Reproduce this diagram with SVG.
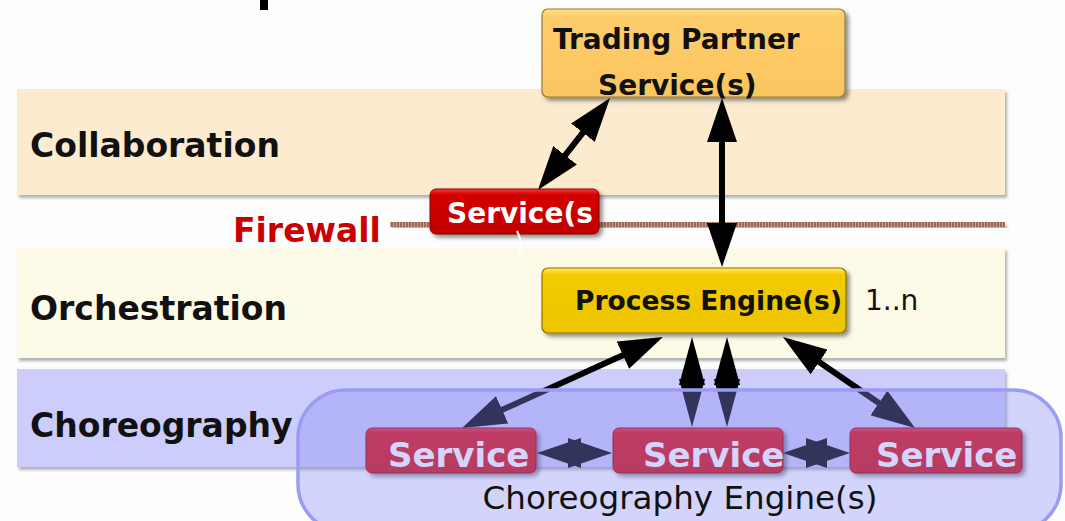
<svg xmlns="http://www.w3.org/2000/svg" width="1065" height="521" viewBox="0 0 1065 521">
<style>
.lbl{font-family:"DejaVu Sans",Verdana,sans-serif;font-weight:bold;font-size:33px;fill:#111}
.bt{font-family:"DejaVu Sans",Verdana,sans-serif;font-weight:bold;fill:#111}
.svc{font-family:"DejaVu Sans",Verdana,sans-serif;font-weight:bold;font-size:34px;fill:#fff}
.con{stroke:#000;stroke-width:6;fill:none;marker-start:url(#ah);marker-end:url(#ah)}
.conm{stroke:#000;stroke-width:6;fill:none;marker-start:url(#ahm);marker-end:url(#ahm)}
.band{filter:url(#bs)}
</style>
<defs>
<marker id="ah" viewBox="0 0 44 30" refX="12" refY="15" markerWidth="44" markerHeight="30" markerUnits="userSpaceOnUse" orient="auto-start-reverse">
<path d="M0,0 L44,15 L0,30 z" fill="#000"/>
</marker>
<marker id="ahm" viewBox="0 0 48 26" refX="16" refY="13" markerWidth="48" markerHeight="26" markerUnits="userSpaceOnUse" orient="auto-start-reverse">
<path d="M0,0 L48,13 L0,26 z" fill="#000"/>
</marker>
<filter id="sh" x="-10%" y="-20%" width="130%" height="150%">
<feDropShadow dx="3" dy="3" stdDeviation="2" flood-color="#000" flood-opacity="0.45"/>
</filter>
<filter id="bs" x="-5%" y="-10%" width="110%" height="130%">
<feDropShadow dx="2" dy="3" stdDeviation="1.5" flood-color="#000" flood-opacity="0.3"/>
</filter>
<linearGradient id="gTP" x1="0" y1="0" x2="0" y2="1">
<stop offset="0" stop-color="#ffe28a"/><stop offset="0.08" stop-color="#fdcc6a"/><stop offset="1" stop-color="#fbc660"/>
</linearGradient>
<linearGradient id="gPE" x1="0" y1="0" x2="0" y2="1">
<stop offset="0" stop-color="#fff060"/><stop offset="0.1" stop-color="#f2cb00"/><stop offset="1" stop-color="#ecc400"/>
</linearGradient>
<linearGradient id="gR" x1="0" y1="0" x2="0" y2="1">
<stop offset="0" stop-color="#f04040"/><stop offset="0.12" stop-color="#d40000"/><stop offset="1" stop-color="#c00000"/>
</linearGradient>
<linearGradient id="gS" x1="0" y1="0" x2="0" y2="1">
<stop offset="0" stop-color="#f03040"/><stop offset="0.12" stop-color="#de0a10"/><stop offset="1" stop-color="#d0080c"/>
</linearGradient>
</defs>

<rect width="1065" height="521" fill="#fdfdfd"/>
<rect x="260" y="0" width="8" height="10" fill="#000"/>

<g id="bands">
<rect class="band" x="17" y="89" width="988" height="106" fill="#fdebd0"/>
<rect class="band" x="17" y="248" width="988" height="110" fill="#fdfbe8"/>
<rect class="band" x="17" y="369" width="988" height="98" fill="#cccdfa"/>
</g>

<g id="firewall">
<rect x="390" y="222" width="615" height="5" fill="#9c6a58" filter="url(#bs)"/>
<line x1="390" y1="224.5" x2="1005" y2="224.5" stroke="#c9a08e" stroke-width="5" stroke-dasharray="1 2"/>
<text x="233" y="242" class="bt" font-size="33" style="fill:#cc0000">Firewall</text>
</g>

<g id="layer-labels">
<text class="lbl" x="30" y="157">Collaboration</text>
<text class="lbl" x="30" y="320">Orchestration</text>
<text class="lbl" x="30" y="437">Choreography</text>
</g>

<g id="connectors">
<line class="con" x1="557.7" y1="164.8" x2="590.3" y2="123.2"/>
<line class="con" x1="722" y1="130" x2="722" y2="235"/>
<line class="con" x1="633.8" y1="350.2" x2="491.2" y2="414.8"/>
<line class="con" x1="809.3" y1="355.2" x2="888.7" y2="409.8"/>
<line class="conm" x1="692" y1="369" x2="692" y2="395"/>
<line class="conm" x1="727" y1="369" x2="727" y2="395"/>
<line class="con" x1="569" y1="453" x2="580" y2="453"/>
<line class="con" x1="815" y1="453" x2="818" y2="453"/>
</g>

<g id="trading-partner">
<rect x="542" y="9" width="303" height="88" rx="6" fill="url(#gTP)" stroke="#9a7a3a" stroke-width="1.2" filter="url(#sh)"/>
<text class="bt" x="553" y="49" font-size="28">Trading Partner</text>
<text class="bt" x="598" y="95" font-size="28">Service(s)</text>
</g>

<g id="service-firewall">
<rect x="430" y="189" width="169" height="45" rx="6" fill="url(#gR)" stroke="#8a0000" stroke-width="1" filter="url(#sh)"/>
<text class="svc" x="447" y="223" style="font-size:28px">Service(s</text>
<path d="M517,231 Q524,244 518,257" stroke="#fff" stroke-width="2" fill="none"/>
</g>

<g id="process-engine">
<rect x="542" y="268" width="304" height="65" rx="6" fill="url(#gPE)" stroke="#8a7400" stroke-width="1.2" filter="url(#sh)"/>
<text class="bt" x="575" y="310" font-size="26.5">Process Engine(s)</text>
<text x="865" y="310" font-family="DejaVu Sans, Verdana, sans-serif" font-size="28" fill="#111">1..n</text>
</g>

<g id="service-1">
<rect x="366" y="428" width="170" height="45" rx="6" fill="url(#gS)" stroke="#900" stroke-width="1" filter="url(#sh)"/>
<text class="svc" x="388" y="467">Service</text>
</g>
<g id="service-2">
<rect x="613" y="428" width="170" height="45" rx="6" fill="url(#gS)" stroke="#900" stroke-width="1" filter="url(#sh)"/>
<text class="svc" x="643" y="467">Service</text>
</g>
<g id="service-3">
<rect x="850" y="428" width="172" height="45" rx="6" fill="url(#gS)" stroke="#900" stroke-width="1" filter="url(#sh)"/>
<text class="svc" x="876" y="467">Service</text>
</g>

<g id="choreography-engine">
<rect x="298" y="390" width="763" height="142" rx="48" fill="#8b8df8" fill-opacity="0.37" stroke="#9a9cf4" stroke-width="3.5"/>
<text x="680" y="509" text-anchor="middle" font-family="DejaVu Sans, Verdana, sans-serif" font-size="32" fill="#111" textLength="395" lengthAdjust="spacingAndGlyphs">Choreography Engine(s)</text>
</g>
</svg>
